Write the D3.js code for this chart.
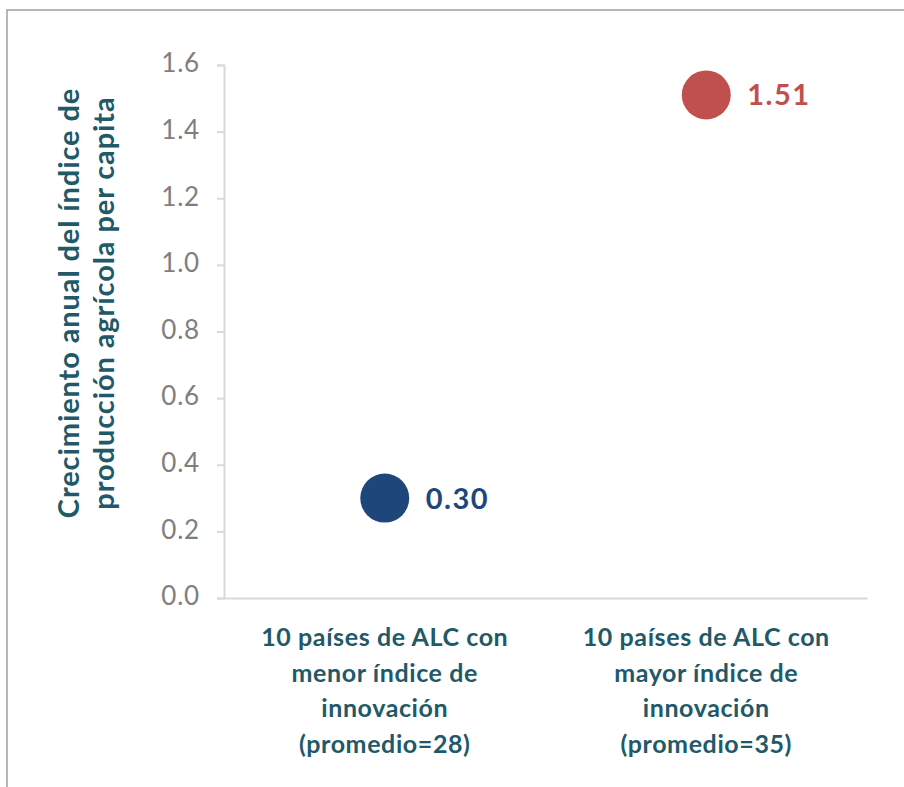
<!DOCTYPE html>
<html>
<head>
<meta charset="utf-8">
<script src="https://cdn.jsdelivr.net/npm/d3@7"></script>
<style>
  body { margin: 0; background: #fff; }
  text { font-family: Lato, "Open Sans", sans-serif; }
</style>
</head>
<body>
<svg id="chart" width="904" height="787"></svg>
<script>
// data
var categories = ['menor', 'mayor'];
var categoryLabels = [
  ['10 países de ALC con', 'menor índice de', 'innovación', '(promedio=28)'],
  ['10 países de ALC con', 'mayor índice de', 'innovación', '(promedio=35)']
];
var values = [0.30, 1.51];
var valueLabels = ['0.30', '1.51'];
var dotColors = ['#1f467b', '#c0504d'];
var yTicks = [0, 0.2, 0.4, 0.6, 0.8, 1.0, 1.2, 1.4, 1.6];
var yTitle = ['Crecimiento anual del índice de', 'producción agrícola per capita'];

var svg = d3.select('#chart'),
    margin = {top: 65, right: 37, bottom: 189, left: 224},
    width = 904 - margin.left - margin.right,
    height = 787 - margin.top - margin.bottom;

// outer frame (runs off the right and bottom of the picture)
svg.append('rect')
  .attr('x', 7).attr('y', 10)
  .attr('width', 920).attr('height', 800)
  .attr('fill', 'none')
  .attr('stroke', '#a6a6a6')
  .attr('stroke-width', 1.6);

var g = svg.append('g')
  .attr('transform', 'translate(' + margin.left + ',' + margin.top + ')');

var x = d3.scaleBand().domain(categories).range([0, width]);
var y = d3.scaleLinear().domain([0, 1.6]).range([height, 0]);

// y axis
var yAxis = g.append('g')
  .call(d3.axisLeft(y).tickValues(yTicks).tickFormat(d3.format('.1f')).tickSizeOuter(0).tickSize(7).tickPadding(17));
yAxis.select('.domain').attr('stroke', '#d9d9d9').attr('stroke-width', 2);
yAxis.selectAll('.tick line').attr('stroke', '#d9d9d9').attr('stroke-width', 2);
yAxis.selectAll('.tick text')
  .attr('fill', '#7f7f7f')
  .style('font-size', '26px')
  .style('letter-spacing', '0.8px')
  .attr('dy', '0.26em');

// x axis line
var xAxis = g.append('g')
  .attr('transform', 'translate(0,' + height + ')')
  .call(d3.axisBottom(x).tickSize(0).tickFormat(''));
xAxis.select('.domain').attr('stroke', '#d9d9d9').attr('stroke-width', 2);

// category labels, four lines each
categories.forEach(function(c, i){
  var cx = x(c) + x.bandwidth() / 2;
  var t = g.append('text')
    .attr('text-anchor', 'middle')
    .attr('fill', '#215968')
    .style('font-size', '25px')
    .style('letter-spacing', '0.6px')
    .style('font-weight', 'bold');
  categoryLabels[i].forEach(function(line, j){
    t.append('tspan')
      .attr('x', cx)
      .attr('y', height + 48 + j * 35.5)
      .text(line);
  });
});

// dots
g.selectAll('.dot')
  .data(values)
  .enter().append('circle')
  .attr('class', 'dot')
  .attr('cx', function(d, i){ return x(categories[i]) + x.bandwidth() / 2; })
  .attr('cy', function(d){ return y(d); })
  .attr('r', 24.5)
  .attr('fill', function(d, i){ return dotColors[i]; });

// value labels
g.selectAll('.val')
  .data(values)
  .enter().append('text')
  .attr('class', 'val')
  .attr('x', function(d, i){ return x(categories[i]) + x.bandwidth() / 2 + 41; })
  .attr('y', function(d){ return y(d); })
  .attr('dy', '0.36em')
  .attr('fill', function(d, i){ return dotColors[i]; })
  .style('font-size', '29px')
  .style('letter-spacing', '1.5px')
  .style('font-weight', 'bold')
  .text(function(d, i){ return valueLabels[i]; });

// y title, rotated, two lines
var yt = svg.append('text')
  .attr('transform', 'translate(0,303) rotate(-90)')
  .attr('text-anchor', 'middle')
  .attr('fill', '#215968')
  .style('font-size', '29px')
  .style('letter-spacing', '0.9px')
  .style('font-weight', 'bold');
yTitle.forEach(function(line, j){
  yt.append('tspan')
    .attr('x', 0)
    .attr('y', 79 + j * 35)
    .text(line);
});
</script>
</body>
</html>
